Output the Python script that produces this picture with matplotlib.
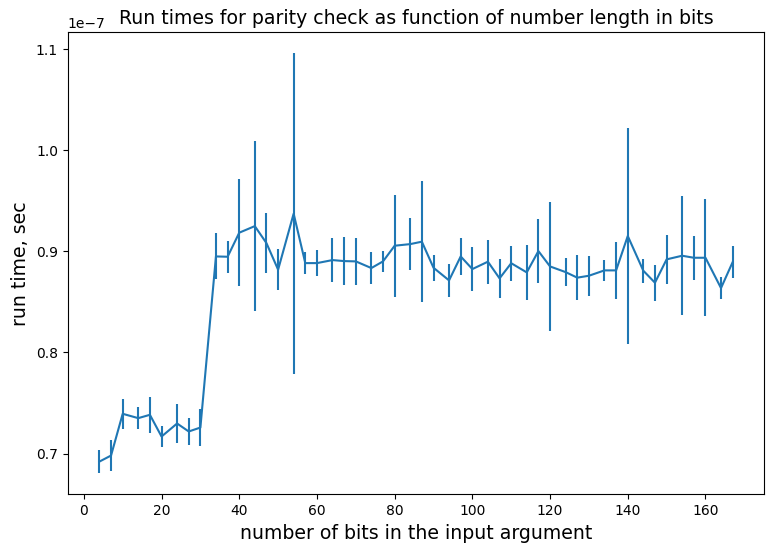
import numpy as np
import matplotlib
matplotlib.use('Agg')
import matplotlib.pyplot as plt

# number of bits in the input argument
bits = [4, 7, 10, 14, 17, 20, 24, 27, 30, 34, 37, 40, 44, 47, 50, 54, 57, 60,
        64, 67, 70, 74, 77, 80, 84, 87, 90, 94, 97, 100, 104, 107, 110,
        114, 117, 120, 124, 127, 130, 134, 137, 140, 144, 147, 150, 154,
        157, 160, 164, 167]

# mean run time (units of 1e-7 sec)
mean_time = [0.692, 0.698, 0.7393, 0.735, 0.7383, 0.7168, 0.7297, 0.7218, 0.7257,
             0.895, 0.8947, 0.9185, 0.925, 0.9082, 0.8819, 0.9373, 0.8884, 0.8884,
             0.8914, 0.8904, 0.8901, 0.8835, 0.8901, 0.9056, 0.9072, 0.9096,
             0.8838, 0.8713, 0.895, 0.8825, 0.8898, 0.8733, 0.8883,
             0.8792, 0.9003, 0.8851, 0.8795, 0.874, 0.8759, 0.8812, 0.8812,
             0.9152, 0.8809, 0.869, 0.8921, 0.8957, 0.8937, 0.8937, 0.8637, 0.8894]

# standard deviation (units of 1e-7 sec)
std_time = [0.0116, 0.0155, 0.0149, 0.0106, 0.018, 0.0106, 0.019, 0.0129, 0.018,
            0.0228, 0.0157, 0.0529, 0.0842, 0.0294, 0.0206, 0.1587, 0.0109, 0.013,
            0.0216, 0.0236, 0.0231, 0.0162, 0.0102, 0.0503, 0.0257, 0.0597,
            0.0129, 0.0167, 0.0183, 0.0221, 0.0216, 0.0196, 0.0172,
            0.0276, 0.032, 0.0637, 0.0139, 0.022, 0.0198, 0.0107, 0.0285,
            0.1066, 0.0117, 0.0177, 0.0246, 0.0587, 0.0216, 0.0578, 0.0107, 0.0157]

y = np.array(mean_time) * 1e-7
yerr = np.array(std_time) * 1e-7

fig = plt.figure(figsize=(7.74, 5.53), dpi=100)
ax = fig.add_subplot(111)
fig.subplots_adjust(left=0.0875, right=0.9875, top=0.9416, bottom=0.1061)

ax.errorbar(bits, y, yerr=yerr)

ax.set_title('Run times for parity check as function of number length in bits', fontsize=13.6)
ax.set_xlabel('number of bits in the input argument', fontsize=13.6)
ax.set_ylabel('run time, sec', fontsize=13.6)

plt.savefig('out.png', dpi=100)
